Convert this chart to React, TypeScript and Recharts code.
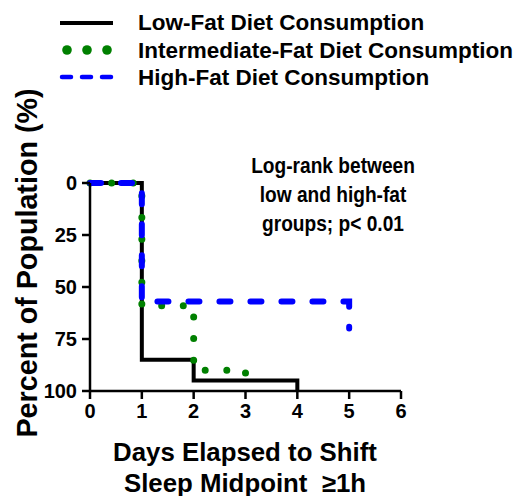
import { LineChart, Line, XAxis, YAxis, Customized } from 'recharts';

// Kaplan-Meier style step curves (percent of population that shifted)
const lowDays = [0, 1, 2, 4];
const lowPct = [0, 85, 95, 100];
const midDays = [0, 1, 2, 3];
const midPct = [0, 59, 90, 93];
const highDays = [0, 1, 5];
const highPct = [0, 57, 70];

const xTicks = [0, 1, 2, 3, 4, 5, 6];
const yTicks = [0, 25, 50, 75, 100];

const legendItems = [
  { name: 'Low-Fat Diet Consumption', kind: 'solid' },
  { name: 'Intermediate-Fat Diet Consumption', kind: 'dots' },
  { name: 'High-Fat Diet Consumption', kind: 'dash' },
];
const noteLines = ['Log-rank between', 'low and high-fat', 'groups; p< 0.01'];
const xTitle = ['Days Elapsed to Shift', 'Sleep Midpoint\u00a0\u00a0\u22651h'];
const yTitle = 'Percent of Population (%)';

const FONT = '"Liberation Sans", Arial, sans-serif';
const GREEN = '#008000';
const BLUE = '#0000ff';

const toRows = (days: number[], pct: number[]) => days.map((d, i) => ({ day: d, pct: pct[i] }));
const lowData = toRows(lowDays, lowPct);
const midData = toRows(midDays, midPct);
const highData = toRows(highDays, highPct);

function Extras() {
  const rowY = [22, 50, 77];
  return (
    <g fontFamily={FONT} fontWeight="bold" fill="#000">
      {legendItems.map((it, i) => (
        <g key={it.name}>
          {it.kind === 'solid' && <line x1={60} x2={113} y1={rowY[i] + 1} y2={rowY[i] + 1} stroke="#000" strokeWidth={4} />}
          {it.kind === 'dots' &&
            [67, 87, 107].map((cx) => <circle key={cx} cx={cx} cy={rowY[i]} r={4.8} fill={GREEN} />)}
          {it.kind === 'dash' &&
            [62, 82, 102].map((x) => (
              <line key={x} x1={x} x2={x + 9} y1={rowY[i]} y2={rowY[i]} stroke={BLUE} strokeWidth={4.5} strokeLinecap="round" />
            ))}
          <text x={138} y={rowY[i]} fontSize={22.5} dominantBaseline="central">{it.name}</text>
        </g>
      ))}
      {noteLines.map((t, i) => (
        <text
          key={t}
          fontSize={22}
          textAnchor="middle"
          dominantBaseline="central"
          transform={`translate(333, ${165 + i * 29}) scale(0.87, 1)`}
        >
          {t}
        </text>
      ))}
      {xTitle.map((t, i) => (
        <text key={t} x={245} y={452 + i * 31} fontSize={25.8} textAnchor="middle" dominantBaseline="central">{t}</text>
      ))}
      <text x={27} y={263} fontSize={28.7} textAnchor="middle" dominantBaseline="central" transform="rotate(-90, 27, 263)">{yTitle}</text>
    </g>
  );
}

export default function App() {
  const tickStyle = { fill: '#000', fontSize: 20, fontWeight: 'bold', fontFamily: FONT };
  return (
    <div style={{ position: 'absolute', left: 0, top: 0, width: 524, height: 496, background: '#fff' }}>
      <LineChart width={524} height={496} margin={{ top: 183, right: 123, bottom: 0, left: 0 }}>
        <XAxis
          type="number"
          dataKey="day"
          domain={[0, 6]}
          ticks={xTicks}
          allowDuplicatedCategory={false}
          height={105}
          tickSize={8}
          tickMargin={5}
          stroke="#000"
          strokeWidth={2.5}
          tick={tickStyle}
        />
        <YAxis
          type="number"
          dataKey="pct"
          domain={[0, 100]}
          ticks={yTicks}
          reversed
          width={90}
          tickSize={8}
          tickMargin={5}
          stroke="#000"
          strokeWidth={2.5}
          tick={tickStyle}
        />
        <Line data={lowData} dataKey="pct" type="stepAfter" stroke="#000" strokeWidth={4} dot={false} isAnimationActive={false} />
        <Line
          data={midData}
          dataKey="pct"
          type="stepAfter"
          stroke={GREEN}
          strokeWidth={7}
          strokeDasharray="0 21.6"
          strokeLinecap="round"
          dot={false}
          isAnimationActive={false}
        />
        <Line
          data={highData}
          dataKey="pct"
          type="stepAfter"
          stroke={BLUE}
          strokeWidth={6}
          strokeDasharray="11 20"
          strokeLinecap="round"
          dot={false}
          isAnimationActive={false}
        />
        <Customized component={Extras} />
      </LineChart>
    </div>
  );
}
